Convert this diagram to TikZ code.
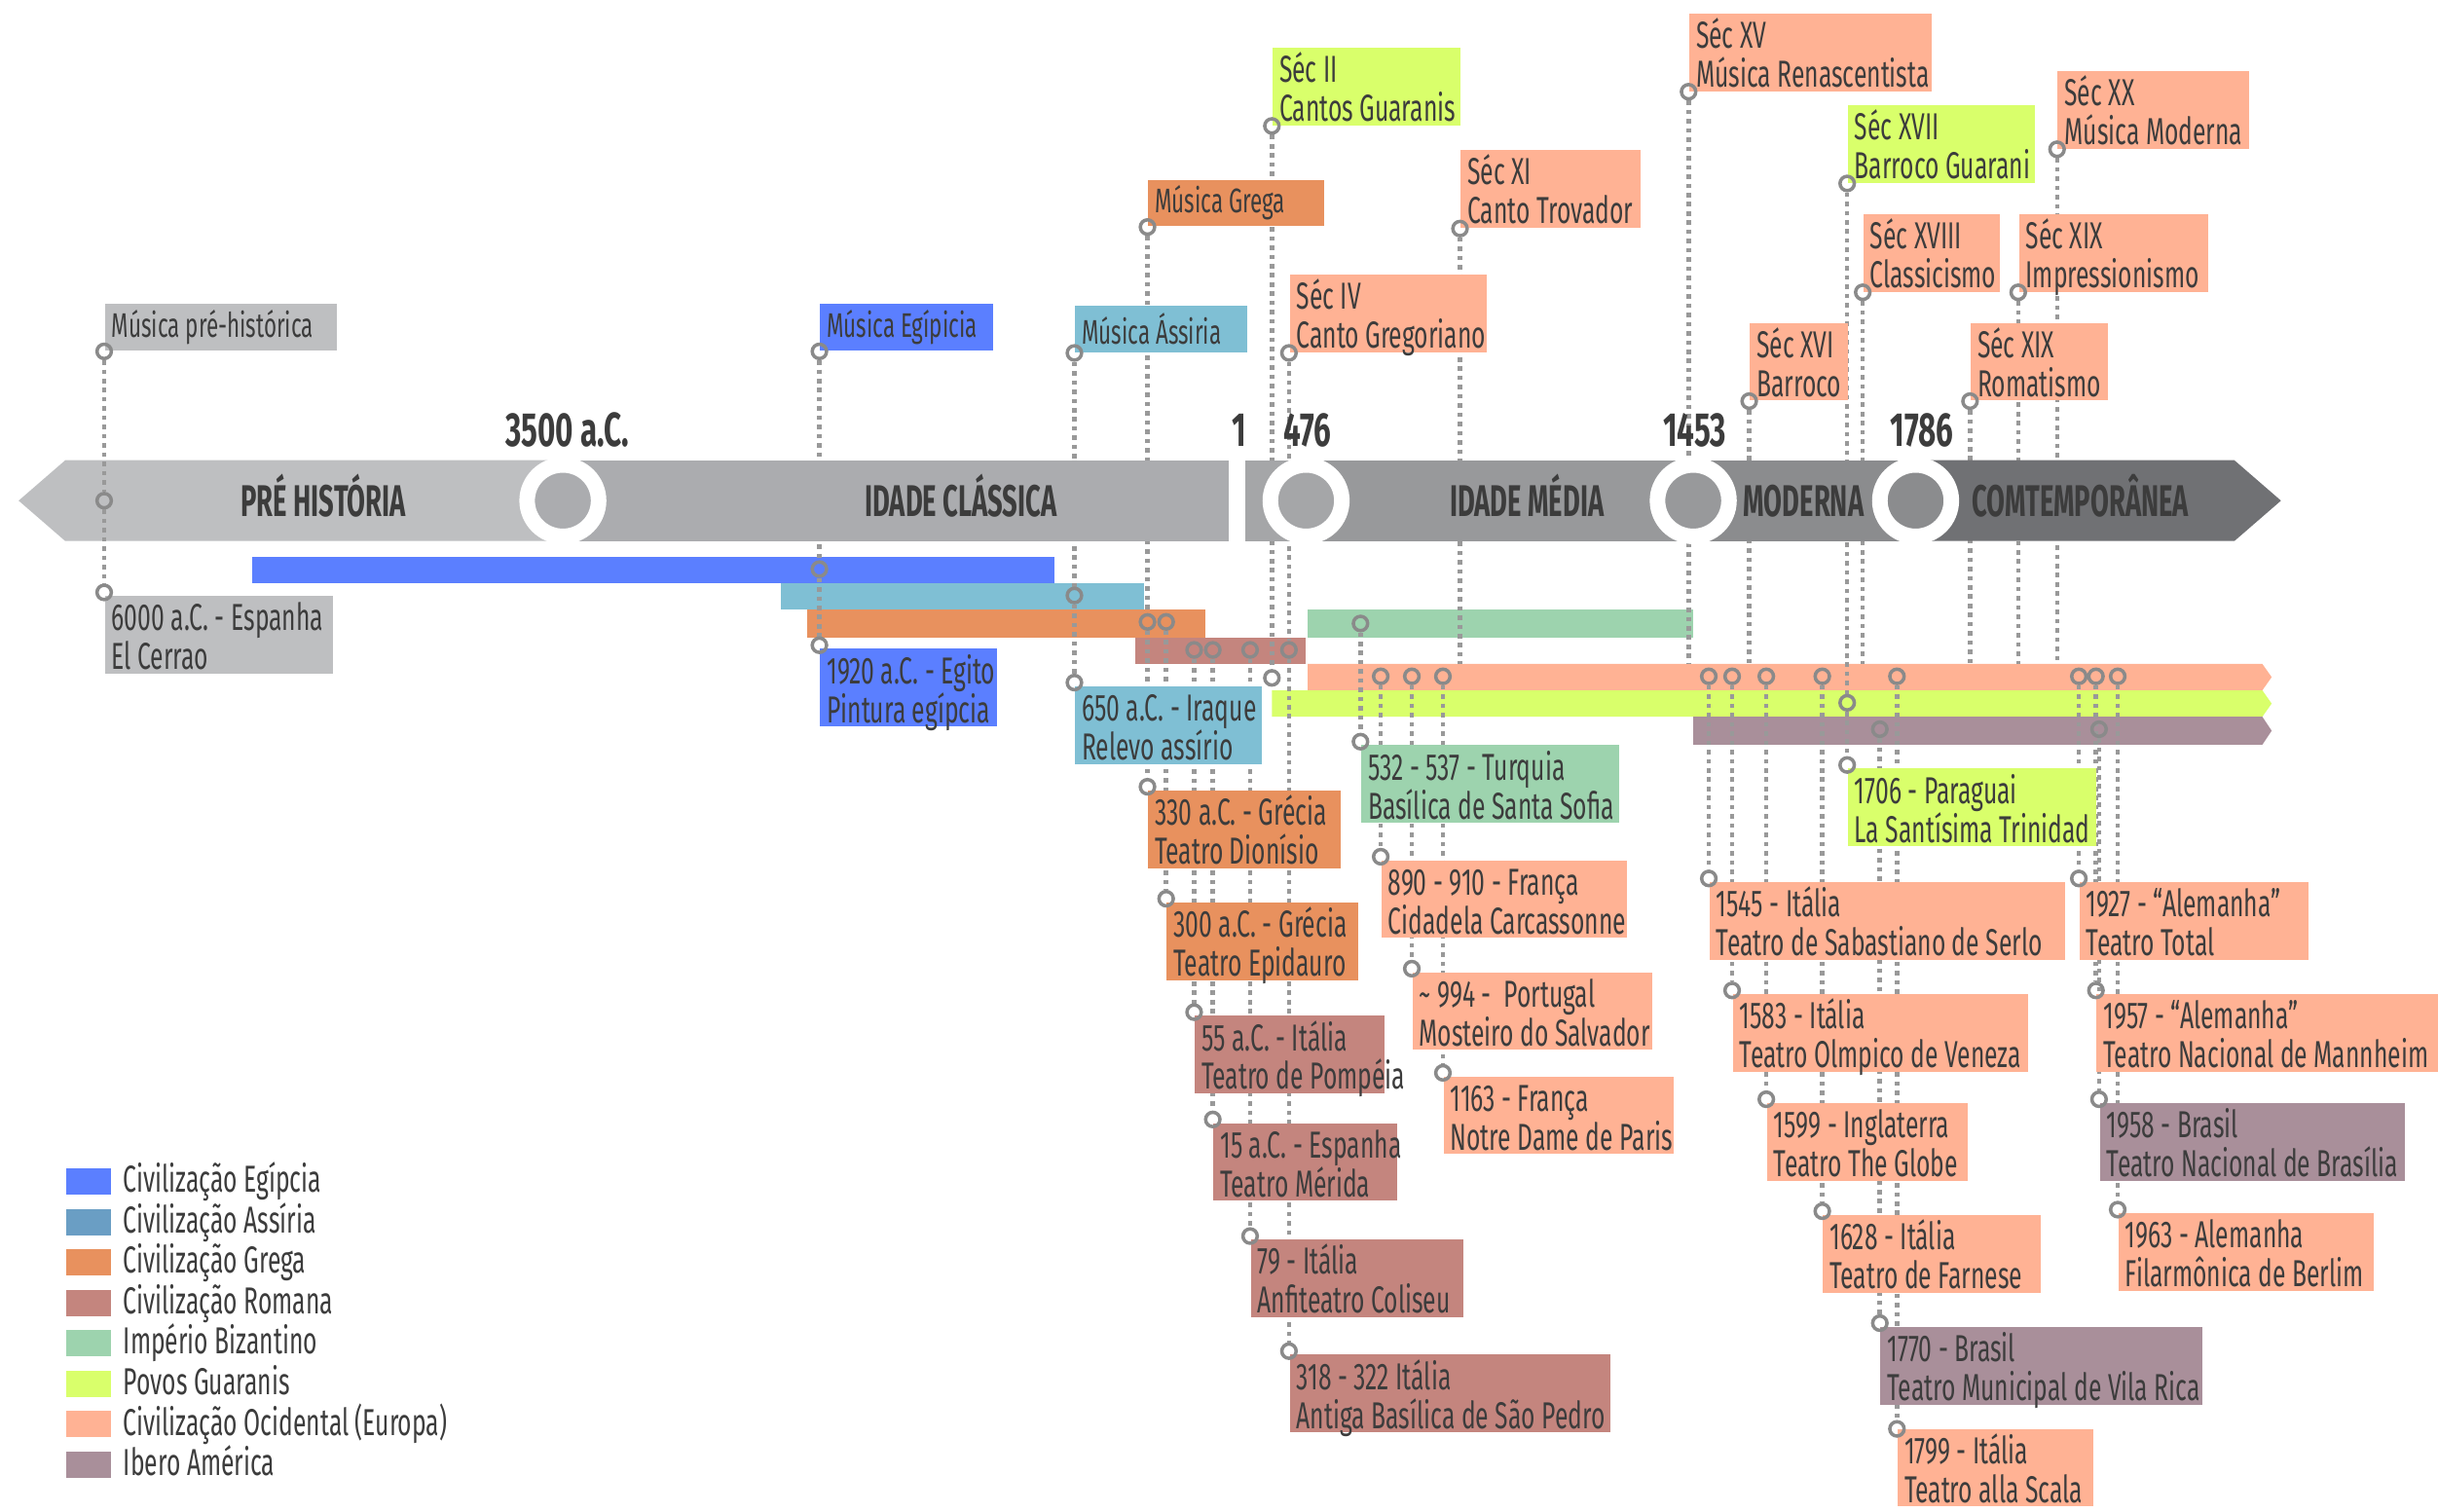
\documentclass[tikz,border=0pt]{standalone}
\usepackage{fontspec}
\setmainfont{Fira Sans}
\newfontfamily\lblfam[FakeStretch=0.64]{Fira Sans}
\newfontfamily\segfam[FakeStretch=0.6]{Fira Sans}
\newfontfamily\yearfam[FakeStretch=0.64]{Fira Sans}
\newcommand\lblf{\lblfam\fontsize{11}{11.4}\selectfont}
\newcommand\toplf{\lblfam\fontsize{10}{11}\selectfont}
\newcommand\segf{\segfam\bfseries\fontsize{13}{14}\selectfont}
\newcommand\yearf{\yearfam\bfseries\fontsize{14}{15}\selectfont}
\newcommand\twol[2]{\raisebox{-1.6pt}[8.4pt][0pt]{\spaceskip=0pt\xspaceskip=0pt\relax #1}\\\raisebox{-1.6pt}[8pt][2.6pt]{\spaceskip=0pt\xspaceskip=0pt\relax #2}}
\newcommand\onel[1]{\mbox{\spaceskip=0pt\xspaceskip=0pt\relax #1}}
\usetikzlibrary{calc}
\pgfdeclarelayer{bars}
\pgfdeclarelayer{lines}
\pgfdeclarelayer{band}
\pgfdeclarelayer{boxes}
\pgfsetlayers{bars,lines,band,boxes,main}
\definecolor{cPre}{HTML}{BEBFC1}
\definecolor{cEg}{HTML}{5B7FFF}
\definecolor{cAs}{HTML}{7FBFD4}
\definecolor{cAsL}{HTML}{6A9EC4}
\definecolor{cGr}{HTML}{E8915E}
\definecolor{cRo}{HTML}{C4857E}
\definecolor{cBz}{HTML}{9DD3AE}
\definecolor{cGu}{HTML}{D9FF6B}
\definecolor{cEu}{HTML}{FFB294}
\definecolor{cIb}{HTML}{A98F9A}
\definecolor{bPre}{HTML}{BEBFC1}
\definecolor{bCla}{HTML}{ABACAF}
\definecolor{bGap}{HTML}{A5A6A8}
\definecolor{bMid}{HTML}{98999B}
\definecolor{bMod}{HTML}{8B8C8E}
\definecolor{bCon}{HTML}{707174}
\definecolor{txt}{HTML}{3C3C3C}
\definecolor{pinc}{HTML}{8A8A8A}
\definecolor{linec}{HTML}{999999}
\begin{document}
\begin{tikzpicture}[x=0.016cm,y=-0.016cm,
  knob/.style={circle,draw=pinc,line width=1pt,inner sep=0pt,minimum size=4.2pt},
  vline/.style={draw=linec,line width=1.3pt,dash pattern=on 1.3pt off 1.4pt},
  evbox/.style={font=\lblf,text=txt,inner xsep=2pt,inner ysep=0pt,align=left,minimum height=0.8cm},
  sbox/.style={font=\toplf,text=txt,inner xsep=2pt,inner ysep=0pt,align=left,minimum height=0.48cm},
  bw/.style={text width=#1*0.016cm-4pt},
  lup/.style={anchor=south west},
  ldn/.style={anchor=north west,yshift=-0.03cm},
  seglbl/.style={font=\segf,text=txt,anchor=base,inner sep=0pt},
  yrlbl/.style={font=\yearf,text=txt,anchor=base,inner sep=0pt},
  ringn/.style={circle,draw=white,line width=0.16cm,minimum size=0.736cm,inner sep=0pt},
  legtxt/.style={font=\lblf,text=txt,anchor=base west,inner sep=0pt},
  swatch/.style={minimum width=0.464cm,minimum height=0.272cm,inner sep=0pt,anchor=west}
]
\useasboundingbox (0,0) rectangle (1568,972);

% ---------- civilisation bars ----------
\begin{pgfonlayer}{bars}
\fill[white] (0,0) rectangle (1568,972);
\fill[cEg] (162,358) rectangle (678,375);
\fill[cAs] (502,375) rectangle (736,392);
\fill[cGr] (519,392) rectangle (775,410);
\fill[cRo] (730,410) rectangle (840,427);
\fill[cBz] (841,392) rectangle (1089,410);
\fill[cEu] (841,427) -- (1455,427) -- (1461,435.5) -- (1455,444) -- (841,444) -- cycle;
\fill[cGu] (818,444) -- (1455,444) -- (1461,452.5) -- (1455,461) -- (818,461) -- cycle;
\fill[cIb] (1089,461) -- (1455,461) -- (1461,470) -- (1455,479) -- (1089,479) -- cycle;
\end{pgfonlayer}

% ---------- pins ----------
\foreach \n/\x/\y in {a1/67/226, a2/67/322, a3/67/381,
  b1/527/226, b2/527/366, b3/527/415,
  c1/691/227, c2/691/383, c3/691/439,
  d1/738/146, d2/738/400, d3/738/506,
  e1/750/400, e2/750/578,
  f1/768/418, f2/768/651,
  g1/780/418, g2/780/720,
  h1/804/418, h2/804/795,
  i1/829/227, i2/829/418, i3/829/869,
  j1/818/81, j2/818/436,
  k1/875/401, k2/875/477,
  l1/888/435, l2/888/551,
  m1/908/435, m2/908/623,
  n1/928/435, n2/928/690,
  o1/939/147, p1/1086/59, q1/1125/258,
  r1/1188/118, r2/1188/452, r3/1188/492,
  s1/1198/188, t1/1267/258, u1/1298/188, v1/1323/96,
  w1/1099/435, w2/1099/565,
  x1/1114/435, x2/1114/637,
  y1/1136/435, y2/1136/707,
  z1/1172/435, z2/1172/779,
  aa1/1209/469, aa2/1209/851,
  ab1/1220/435, ab2/1220/919,
  ac1/1337/435, ac2/1337/565,
  ad1/1348/435, ad2/1348/637,
  ae1/1350/469, ae2/1350/707,
  af1/1362/435, af2/1362/778}
  \node[knob] (\n) at (\x,\y) {};
\foreach \n/\x in {o2/939, p2/1086, q2/1125, s2/1198, t2/1267, u2/1298, v2/1323}
  \coordinate (\n) at (\x,427);

% ---------- dotted connectors ----------
\begin{pgfonlayer}{lines}
\foreach \a/\b in {b1/b2, b2/b3, c1/c2, c2/c3, d1/d2, d2/d3, e1/e2, f1/f2, g1/g2, h1/h2,
  i1/i2, i2/i3, j1/j2, k1/k2, l1/l2, m1/m2, n1/n2, o1/o2, p1/p2, q1/q2,
  r1/r2, r2/r3, s1/s2, t1/t2, u1/u2, v1/v2, w1/w2, x1/x2, y1/y2, z1/z2,
  aa1/aa2, ab1/ab2, ac1/ac2, ad1/ad2, ae1/ae2, af1/af2}
  \draw[vline] (\a) -- (\b);
\end{pgfonlayer}
\draw[vline] (a1) -- (a2);
\draw[vline] (a2) -- (a3);

% ---------- main band ----------
\begin{pgfonlayer}{band}
\fill[bPre] (12,322) -- (42,296) -- (362,296) -- (362,348) -- (42,348) -- cycle;
\fill[bCla] (362,296) rectangle (790,348);
\fill[bGap] (801,296) rectangle (840,348);
\fill[bMid] (840,296) rectangle (1089,348);
\fill[bMod] (1089,296) rectangle (1232,348);
\fill[bCon] (1232,296) -- (1437,296) -- (1467,322) -- (1437,348) -- (1232,348) -- cycle;
\node[ringn,fill=bCla] (m3500) at (362,322) {};
\node[ringn,fill=bGap] (m476) at (840,322) {};
\node[ringn,fill=bMid] (m1453) at (1089,322) {};
\node[ringn,fill=bMod] (m1786) at (1232,322) {};
\node[seglbl] (s1l) at (208,332) {PRÉ HISTÓRIA};
\node[seglbl] (s2l) at (618,332) {IDADE CLÁSSICA};
\node[seglbl] (s3l) at (982,332) {IDADE MÉDIA};
\node[seglbl] (s4l) at (1160,332) {MODERNA};
\node[seglbl] (s5l) at (1338,332) {COMTEMPORÂNEA};
\end{pgfonlayer}
\node[yrlbl] (y3500) at (365,287) {3500 a.C.};
\node[yrlbl] (y1) at (797,287) {1};
\node[yrlbl] (y476) at (841,287) {476};
\node[yrlbl] (y1453) at (1090,287) {1453};
\node[yrlbl] (y1786) at (1236,287) {1786};

% ---------- labels ----------
\begin{pgfonlayer}{boxes}
\node[sbox,lup,bw=149,fill=cPre] (T1) at (a1.center) {\onel{Música pré-histórica}};
\node[sbox,lup,bw=111,fill=cEg] (T2) at (b1.center) {\onel{Música Egípicia}};
\node[sbox,lup,bw=111,fill=cAs] (T3) at (c1.center) {\onel{Música Ássiria}};
\node[sbox,lup,bw=113,fill=cGr] (T4) at (d1.center) {\onel{Música Grega}};
\node[evbox,lup,bw=121,fill=cGu] (T5) at (j1.center) {\twol{Séc II}{Cantos Guaranis}};
\node[evbox,lup,bw=127,fill=cEu] (T6) at (i1.center) {\twol{Séc IV}{Canto Gregoriano}};
\node[evbox,lup,bw=116,fill=cEu] (T7) at (o1.center) {\twol{Séc XI}{Canto Trovador}};
\node[evbox,lup,bw=156,fill=cEu] (T8) at (p1.center) {\twol{Séc XV}{Música Renascentista}};
\node[evbox,lup,bw=63,fill=cEu] (T9) at (q1.center) {\twol{Séc XVI}{Barroco}};
\node[evbox,lup,bw=120,fill=cGu] (T10) at (r1.center) {\twol{Séc XVII}{Barroco Guarani}};
\node[evbox,lup,bw=88,fill=cEu] (T11) at (s1.center) {\twol{Séc XVIII}{Classicismo}};
\node[evbox,lup,bw=88,fill=cEu] (T12) at (t1.center) {\twol{Séc XIX}{Romatismo}};
\node[evbox,lup,bw=122,fill=cEu] (T13) at (u1.center) {\twol{Séc XIX}{Impressionismo}};
\node[evbox,lup,bw=123,fill=cEu] (T14) at (v1.center) {\twol{Séc XX}{Música Moderna}};

\node[evbox,ldn,bw=147,fill=cPre] (B1) at (a3.center) {\twol{6000 a.C. - Espanha}{El Cerrao}};
\node[evbox,ldn,bw=114,fill=cEg] (B2) at (b3.center) {\twol{1920 a.C. - Egito}{Pintura egípcia}};
\node[evbox,ldn,bw=120,fill=cAs] (B3) at (c3.center) {\twol{650 a.C. - Iraque}{Relevo assírio}};
\node[evbox,ldn,bw=124,fill=cGr] (B4) at (d3.center) {\twol{330 a.C. - Grécia}{Teatro Dionísio}};
\node[evbox,ldn,bw=123,fill=cGr] (B5) at (e2.center) {\twol{300 a.C. - Grécia}{Teatro Epidauro}};
\node[evbox,ldn,bw=122,fill=cRo] (B6) at (f2.center) {\twol{55 a.C. - Itália}{Teatro de Pompéia}};
\node[evbox,ldn,bw=118,fill=cRo] (B7) at (g2.center) {\twol{15 a.C. - Espanha}{Teatro Mérida}};
\node[evbox,ldn,bw=137,fill=cRo] (B8) at (h2.center) {\twol{79 - Itália}{Anfiteatro Coliseu}};
\node[evbox,ldn,bw=206,fill=cRo] (B9) at (i3.center) {\twol{318 - 322 Itália}{Antiga Basílica de São Pedro}};
\node[evbox,ldn,bw=166,fill=cBz] (B10) at (k2.center) {\twol{532 - 537 - Turquia}{Basílica de Santa Sofia}};
\node[evbox,ldn,bw=158,fill=cEu] (B11) at (l2.center) {\twol{890 - 910 - França}{Cidadela Carcassonne}};
\node[evbox,ldn,bw=154,fill=cEu] (B12) at (m2.center) {\twol{\textasciitilde\ 994 -\ \ Portugal}{Mosteiro do Salvador}};
\node[evbox,ldn,bw=148,fill=cEu] (B13) at (n2.center) {\twol{1163 - França}{Notre Dame de Paris}};
\node[evbox,ldn,bw=229,fill=cEu] (B14) at (w2.center) {\twol{1545 - Itália}{Teatro de Sabastiano de Serlo}};
\node[evbox,ldn,bw=190,fill=cEu] (B15) at (x2.center) {\twol{1583 - Itália}{Teatro Olmpico de Veneza}};
\node[evbox,ldn,bw=129,fill=cEu] (B16) at (y2.center) {\twol{1599 - Inglaterra}{Teatro The Globe}};
\node[evbox,ldn,bw=140,fill=cEu] (B17) at (z2.center) {\twol{1628 - Itália}{Teatro de Farnese}};
\node[evbox,ldn,bw=207,fill=cIb] (B18) at (aa2.center) {\twol{1770 - Brasil}{Teatro Municipal de Vila Rica}};
\node[evbox,anchor=north west,bw=126,fill=cEu,minimum height=0.78cm] (B19) at (ab2.center) {\twol{1799 - Itália}{Teatro alla Scala}};
\node[evbox,ldn,bw=160,fill=cGu] (B20) at (r3.center) {\twol{1706 - Paraguai}{La Santísima Trinidad}};
\node[evbox,ldn,bw=147,fill=cEu] (B21) at (ac2.center) {\twol{1927 - “Alemanha”}{Teatro Total}};
\node[evbox,ldn,bw=220,fill=cEu] (B22) at (ad2.center) {\twol{1957 - “Alemanha”}{Teatro Nacional de Mannheim}};
\node[evbox,ldn,bw=196,fill=cIb] (B23) at (ae2.center) {\twol{1958 - Brasil}{Teatro Nacional de Brasília}};
\node[evbox,ldn,bw=164,fill=cEu] (B24) at (af2.center) {\twol{1963 - Alemanha}{Filarmônica de Berlim}};
\end{pgfonlayer}

% ---------- legend ----------
\foreach \i/\c/\t in {0/cEg/Civilização Egípcia, 1/cAsL/Civilização Assíria, 2/cGr/Civilização Grega,
  3/cRo/Civilização Romana, 4/cBz/Império Bizantino, 5/cGu/Povos Guaranis,
  6/cEu/Civilização Ocidental\ (Europa), 7/cIb/Ibero América}{
  \node[swatch,fill=\c] (lg\i) at (42,{760+26*\i}) {};
  \node[legtxt] (lt\i) at (79,{767+26*\i}) {\t};
}
\end{tikzpicture}
\end{document}
